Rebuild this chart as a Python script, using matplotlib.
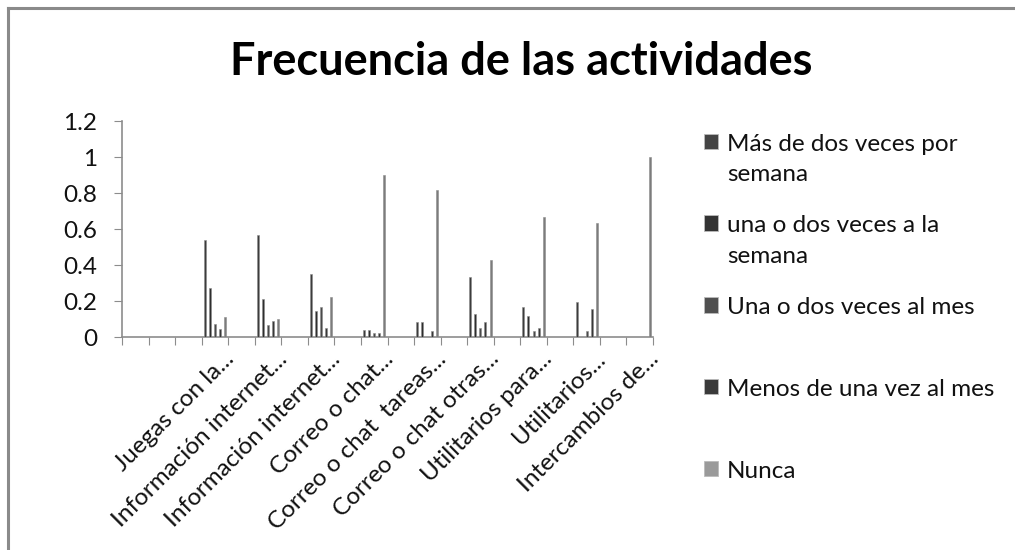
import numpy as np
import matplotlib
matplotlib.use("Agg")
import matplotlib.pyplot as plt
from matplotlib.lines import Line2D

plt.rcParams['font.family'] = ['Lato', 'DejaVu Sans']

title = "Frecuencia de las actividades"

# 20 category slots on the axis; unnamed slots carry no data
categories = ["", "", "", "Juegas con la...", "", "Información internet...", "",
              "Información internet...", "", "Correo o chat...", "",
              "Correo o chat  tareas...", "", "Correo o chat otras...", "",
              "Utilitarios para...", "", "Utilitarios...", "", "Intercambios de..."]

series_names = ["Más de dos veces por\nsemana",
                "una o dos veces a la\nsemana",
                "Una o dos veces al mes\n",
                "Menos de una vez al mes\n",
                "Nunca\n"]

nan = np.nan
mas_de_dos = [nan, nan, nan, 0.54, nan, 0.565, nan, 0.35, nan, 0.04, nan, 0.085, nan, 0.335, nan, 0.165, nan, 0.195, nan, 0.0]
una_dos_semana = [nan, nan, nan, 0.27, nan, 0.21, nan, 0.145, nan, 0.04, nan, 0.085, nan, 0.13, nan, 0.115, nan, 0.0, nan, 0.0]
una_dos_mes = [nan, nan, nan, 0.07, nan, 0.065, nan, 0.165, nan, 0.02, nan, 0.0, nan, 0.05, nan, 0.035, nan, 0.033, nan, 0.0]
menos_una_mes = [nan, nan, nan, 0.045, nan, 0.09, nan, 0.05, nan, 0.02, nan, 0.033, nan, 0.085, nan, 0.05, nan, 0.155, nan, 0.0]
nunca = [nan, nan, nan, 0.11, nan, 0.10, nan, 0.22, nan, 0.90, nan, 0.815, nan, 0.43, nan, 0.665, nan, 0.635, nan, 1.0]

series = [mas_de_dos, una_dos_semana, una_dos_mes, menos_una_mes, nunca]
colors = ["#3c3c3c", "#2e2e2e", "#4a4a4a", "#383838", "#7c7c7c"]
legend_colors = ["#444444", "#333333", "#505050", "#3a3a3a", "#9a9a9a"]

yticks = [0, 0.2, 0.4, 0.6, 0.8, 1, 1.2]
yticklabels = ["0", "0.2", "0.4", "0.6", "0.8", "1", "1.2"]

W, H = 1015, 550
fig = plt.figure(figsize=(W / 100, H / 100), dpi=100)
fig.patch.set_facecolor("white")

# chart frame (top and left edges visible)
fig.add_artist(Line2D([8 / W, 1.0], [1 - 8 / H, 1 - 8 / H], color="#8a8a8a", lw=2.2))
fig.add_artist(Line2D([8 / W, 8 / W], [0, 1 - 8 / H], color="#8a8a8a", lw=2.2))

ax = fig.add_axes([122 / W, (H - 337) / H, (653 - 122) / W, (337 - 121) / H])
x = np.arange(len(categories))
step = 0.19
width = 0.075
handles = []
for j, (vals, c) in enumerate(zip(series, colors)):
    ax.bar(x + (j - 2) * step, np.array(vals, dtype=float), width=width,
           color=c, edgecolor="#8c8c8c", linewidth=0.4, zorder=3)
    handles.append(plt.Rectangle((0, 0), 1, 1, facecolor=legend_colors[j],
                                 edgecolor="#bbbbbb", linewidth=0.6))

ax.set_xlim(-0.5, len(categories) - 0.5)
ax.set_ylim(0, 1.2)
ax.set_yticks(yticks)
ax.set_yticklabels(yticklabels)
ax.set_xticks(np.arange(len(categories) + 1) - 0.5, minor=False)
ax.set_xticklabels([])
# label anchors sit slightly right of the category centre, as in the original
ax.set_xticks(x + 0.3, minor=True)
ax.set_xticklabels(categories, minor=True, rotation=45, ha="right",
                   rotation_mode="anchor", fontsize=17.5, color="#111111")
ax.tick_params(axis="x", which="minor", length=0, pad=8)
ax.tick_params(axis="x", which="major", length=6, color="#8c8c8c", direction="out")
ax.tick_params(axis="y", length=6, color="#8c8c8c", labelsize=17.5,
               labelcolor="#111111", pad=12)
for s in ["top", "right"]:
    ax.spines[s].set_visible(False)
for s in ["left", "bottom"]:
    ax.spines[s].set_color("#8c8c8c")
    ax.spines[s].set_linewidth(1.2)
ax.set_facecolor("none")

fig.text(521 / W, 1 - 62 / H, title, ha="center", va="center", fontsize=32.5,
         fontweight="bold", color="#000000")

leg = fig.legend(handles, series_names, loc="upper left",
                 bbox_to_anchor=(694 / W, 1 - 124 / H), frameon=False,
                 fontsize=17.5, handlelength=0.6, handleheight=0.6,
                 handletextpad=0.35, labelspacing=1.25, borderaxespad=0)
for col in leg._legend_handle_box.get_children():
    for row in col.get_children():
        row.align = "top"
for t in leg.get_texts():
    t.set_color("#111111")
    t.set_linespacing(1.55)

fig.savefig("out.png", dpi=100)
